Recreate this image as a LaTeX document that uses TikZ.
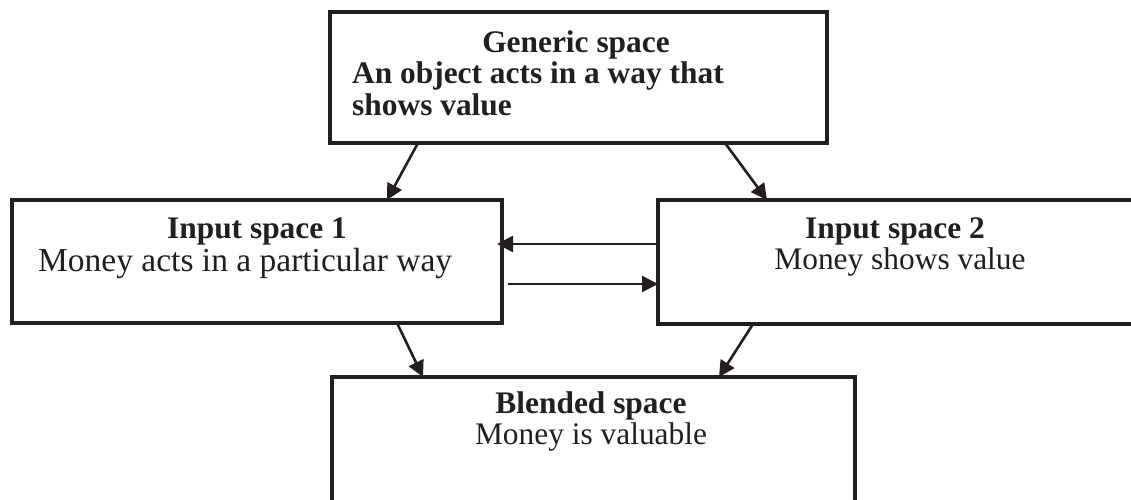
\documentclass[tikz,border=0pt]{standalone}
\usepackage{fontspec}
\setmainfont{Liberation Serif}
\usetikzlibrary{arrows.meta}
\definecolor{ink}{HTML}{231F20}
\tikzset{
  box/.style={draw=ink, line width=4.5pt, rectangle, outer sep=0pt, inner sep=0pt, anchor=north west},
  arr/.style={draw=ink, line width=2.6pt, -{Triangle[length=16pt,width=16pt]}},
  ttl/.style={text=ink, inner sep=0pt, anchor=base, font=\bfseries\fontsize{31.4}{33}\selectfont},
  txt/.style={text=ink, inner sep=0pt, anchor=base, font=\fontsize{31.4}{33}\selectfont},
}
\begin{document}
\begin{tikzpicture}[x=1pt,y=-1pt]
\useasboundingbox (0,0) rectangle (1131,499);
\fill[white] (0,0) rectangle (1131,499);
\clip (0,0) rectangle (1131,499);
% boxes
\node[box, minimum width=497pt, minimum height=131pt] (gen) at (330,12) {};
\node[box, minimum width=490pt, minimum height=123pt] (in1) at (12,200) {};
\node[box, minimum width=510pt, minimum height=124pt] (in2) at (658,200) {};
\node[box, minimum width=523pt, minimum height=160pt] (bl) at (332,377) {};
% texts
\node[ttl] (gt) at (576,52) {Generic space};
\node[ttl, anchor=base west] (g1) at (352,83) {An object acts in a way that};
\node[ttl, anchor=base west] (g2) at (352,115) {shows value};
\node[ttl] (t1) at (257,238) {Input space 1};
\node[txt, anchor=base west, font=\fontsize{33.5}{35}\selectfont] (b1) at (38,271) {Money acts in a particular way};
\node[ttl] (t2) at (895,238) {Input space 2};
\node[txt] (b2) at (900,269) {Money shows value};
\node[ttl] (t3) at (591,413) {Blended space};
\node[txt] (b3) at (591,444) {Money is valuable};
% connectors
\draw[arr] ([xshift=88pt]gen.south west) -- ([xshift=375pt]in1.north west);
\draw[arr] ([xshift=395pt]gen.south west) -- ([xshift=109pt]in2.north west);
\draw[arr] ([yshift=-44pt]in2.north west) -- ([yshift=-44pt,xshift=-5pt]in1.north east);
\draw[arr] ([yshift=-84pt,xshift=6pt]in1.north east) -- ([yshift=-84pt]in2.north west);
\draw[arr] ([xshift=385pt]in1.south west) -- ([xshift=91pt]bl.north west);
\draw[arr] ([xshift=95pt]in2.south west) -- ([xshift=387pt]bl.north west);
\end{tikzpicture}
\end{document}
